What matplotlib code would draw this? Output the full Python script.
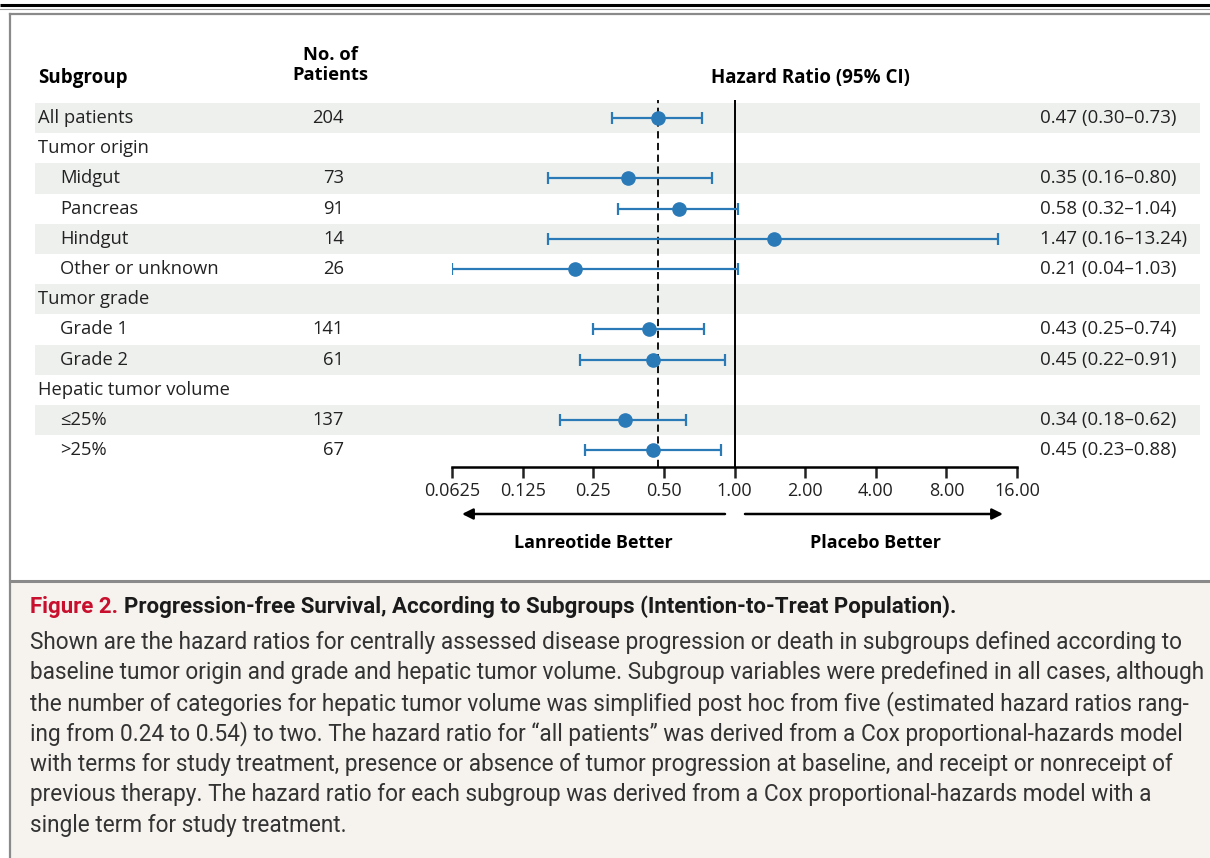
import matplotlib.pyplot as plt
import matplotlib.transforms as transforms
from matplotlib.patches import Rectangle

# Subgroup rows, top to bottom
subgroups = ["All patients", "Tumor origin", "Midgut", "Pancreas", "Hindgut",
             "Other or unknown", "Tumor grade", "Grade 1", "Grade 2",
             "Hepatic tumor volume", "\u226425%", ">25%"]
indented = [False, False, True, True, True, True, False, True, True, False, True, True]
n_patients = [204, None, 73, 91, 14, 26, None, 141, 61, None, 137, 67]
hr = [0.47, None, 0.35, 0.58, 1.47, 0.21, None, 0.43, 0.45, None, 0.34, 0.45]
ci_low = [0.30, None, 0.16, 0.32, 0.16, 0.04, None, 0.25, 0.22, None, 0.18, 0.23]
ci_high = [0.73, None, 0.80, 1.04, 13.24, 1.03, None, 0.74, 0.91, None, 0.62, 0.88]

x_ticks = [0.0625, 0.125, 0.25, 0.5, 1, 2, 4, 8, 16]
x_ticklabels = ["0.0625", "0.125", "0.25", "0.50", "1.00", "2.00", "4.00", "8.00", "16.00"]

caption_title = "Progression-free Survival, According to Subgroups (Intention-to-Treat Population)."
caption_lines = [
    "Shown are the hazard ratios for centrally assessed disease progression or death in subgroups defined according to",
    "baseline tumor origin and grade and hepatic tumor volume. Subgroup variables were predefined in all cases, although",
    "the number of categories for hepatic tumor volume was simplified post hoc from five (estimated hazard ratios rang-",
    "ing from 0.24 to 0.54) to two. The hazard ratio for \u201call patients\u201d was derived from a Cox proportional-hazards model",
    "with terms for study treatment, presence or absence of tumor progression at baseline, and receipt or nonreceipt of",
    "previous therapy. The hazard ratio for each subgroup was derived from a Cox proportional-hazards model with a",
    "single term for study treatment.",
]

W, H = 1210, 858
BLUE = "#2a7ab8"
SHADE = "#eef0ee"
TXT = "#222222"
FONT = ["Open Sans", "DejaVu Sans"]
CAP_FONT = ["Roboto", "DejaVu Sans"]

plt.rcParams["font.family"] = FONT
fig = plt.figure(figsize=(W / 100, H / 100), dpi=100)

# pixel-space canvas for frames, headers and the caption
over = fig.add_axes([0, 0, 1, 1], zorder=0)
over.set_xlim(0, W)
over.set_ylim(H, 0)
over.axis("off")

# forest plot area
ax_left, ax_right, ax_top, ax_bot = 452, 1017, 100, 467
ax = fig.add_axes([ax_left / W, (H - ax_bot) / H, (ax_right - ax_left) / W, (ax_bot - ax_top) / H], zorder=1)
ax.patch.set_alpha(0)
row0, row_step = 118, 30.2
ax.set_ylim((ax_bot - row0) / row_step, (ax_top - row0) / row_step)
ax.set_xscale("log", base=2)
ax.set_xlim(x_ticks[0], x_ticks[-1])
ax.set_xticks(x_ticks)
ax.set_xticklabels(x_ticklabels, fontsize=13)
ax.minorticks_off()
ax.set_yticks([])
for s in ["top", "left", "right"]:
    ax.spines[s].set_visible(False)
ax.spines["bottom"].set_linewidth(1.8)
ax.tick_params(axis="x", length=8, width=1.8, pad=3, colors=TXT)

row_tr = transforms.blended_transform_factory(over.transData, ax.transData)

# alternating row shading
for i in range(0, len(subgroups), 2):
    over.add_patch(Rectangle((35, i - 0.5), 1165, 1.0, transform=row_tr,
                             facecolor=SHADE, edgecolor="none", zorder=0))

ax.axvline(1.0, color="black", lw=1.4, zorder=2)
ax.axvline(hr[0], color="black", lw=1.3, ls=(0, (4, 2.5)), zorder=2)

xmin = x_ticks[0]
for i, (name, ind) in enumerate(zip(subgroups, indented)):
    over.text(60 if ind else 38, i, name, transform=row_tr, fontsize=13.2,
              va="center", ha="left", color=TXT)
    if n_patients[i] is not None:
        over.text(344, i, str(n_patients[i]), transform=row_tr, fontsize=13.2,
                  va="center", ha="right", color=TXT)
    if hr[i] is not None:
        lo = max(ci_low[i], xmin)
        ax.errorbar([hr[i]], [i], xerr=[[hr[i] - lo], [ci_high[i] - hr[i]]],
                    fmt="o", color=BLUE, ms=9.5, lw=1.6, capsize=4, capthick=1.6,
                    zorder=3)
        over.text(1040, i, f"{hr[i]:.2f} ({ci_low[i]:.2f}\u2013{ci_high[i]:.2f})",
                  transform=row_tr, fontsize=13.5, va="center", ha="left",
                  color=TXT)

# column headers
over.text(38, 78, "Subgroup", fontsize=13.5, fontweight="bold", va="center", ha="left")
over.text(330, 65, "No. of\nPatients", fontsize=13.2, fontweight="bold", va="center",
          ha="center", linespacing=1.2)
over.text(810, 78, "Hazard Ratio (95% CI)", fontsize=13.5, fontweight="bold",
          va="center", ha="center")

# direction arrows
arrow = dict(arrowstyle="-|>", lw=1.8, color="black", mutation_scale=16, shrinkA=0, shrinkB=0)
over.annotate("", xy=(462, 514), xytext=(725, 514), arrowprops=arrow)
over.annotate("", xy=(1003, 514), xytext=(745, 514), arrowprops=arrow)
over.text(593, 543, "Lanreotide Better", fontsize=13, fontweight="bold", ha="center", va="center")
over.text(875, 543, "Placebo Better", fontsize=13, fontweight="bold", ha="center", va="center")

# frames
over.plot([0, W], [5, 5], color="black", lw=2.2, solid_capstyle="butt")
over.plot([0, W], [8.5, 8.5], color="#9a9a9a", lw=0.8)
over.plot([10, W], [14, 14], color="#8a8a8a", lw=1.6)
over.plot([10, 10], [14, H], color="#8a8a8a", lw=1.6)

# caption box
over.add_patch(Rectangle((10, 581), W - 10, H - 581, facecolor="#f6f3ee",
                         edgecolor="none", zorder=0))
over.plot([10, W], [581, 581], color="#8a8a8a", lw=2.2)

fig_lbl = over.text(30, 607, "Figure 2. ", fontsize=16, fontweight="bold", color="#c8102e",
                    family=CAP_FONT, va="center", ha="left")
over.annotate(caption_title, xy=(1, 0.5), xycoords=fig_lbl, va="center", ha="left",
              fontsize=16, fontweight="bold", color="#1a1a1a", family=CAP_FONT)
for k, line in enumerate(caption_lines):
    over.text(30, 642 + k * 30.6, line, fontsize=16.3, color="#333333",
              family=CAP_FONT, va="center", ha="left")

fig.savefig("out.png", dpi=100)
